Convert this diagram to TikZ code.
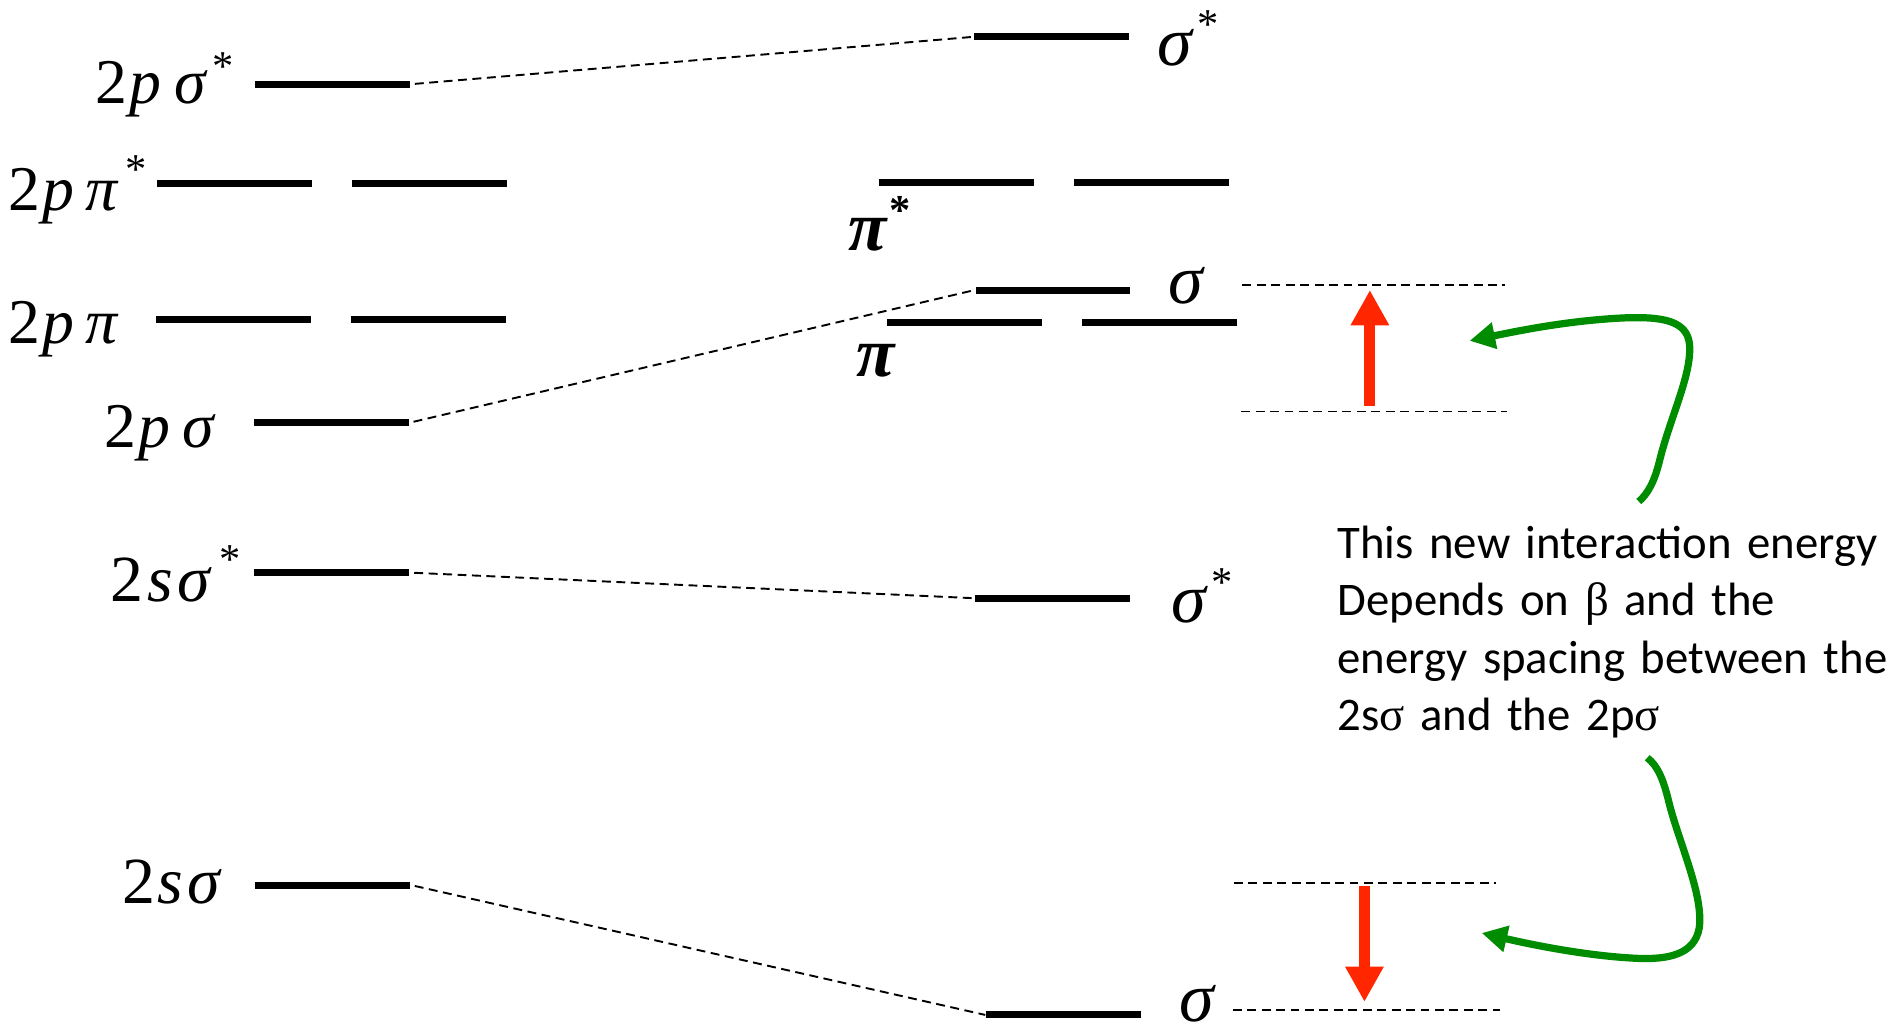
\documentclass[tikz,border=0pt]{standalone}
\usepackage{fontspec}
\setmainfont{Liberation Serif}
\newfontfamily\notefont{Carlito}
\newfontfamily\symfont{Liberation Serif}
\usetikzlibrary{arrows.meta}
\definecolor{arrowred}{RGB}{255,38,0}
\definecolor{notegreen}{RGB}{0,140,0}
% raised asterisk: #1 = kern before it, #2 = raise
\newcommand\ostar[2]{\kern#1\raisebox{#2}{\fontsize{10}{10}\selectfont\upshape *}}
\begin{document}
\begin{tikzpicture}[x=0.01cm,y=-0.01cm,
  level/.style={fill=black, inner sep=0pt, minimum width=1.28cm, minimum height=1.65pt},
  lab/.style={inner sep=0pt, anchor=base west, font=\fontsize{15}{15}\selectfont},
  slab/.style={inner sep=0pt, anchor=base west, font=\fontsize{15.5}{15.5}\selectfont},
  rlab/.style={inner sep=0pt, anchor=base west, font=\fontsize{16.5}{16.5}\selectfont\itshape},
  link/.style={line width=0.45pt, dash pattern=on 2.1pt off 1.3pt, shorten <=1pt},
  guide/.style={line width=0.45pt, dash pattern=on 2.1pt off 1.3pt},
  energy/.style={draw=arrowred, line width=2.6pt, -{Triangle[length=8.3pt,width=8.5pt]}},
  pointer/.style={draw=notegreen, line width=1.7pt, -{Triangle[length=6pt,width=6pt]}},
  note/.style={inner sep=0pt, anchor=base west, align=left, text width=5cm,
    font=\notefont\fontsize{11}{13.5}\selectfont}]
\useasboundingbox (0,0) rectangle (1568,852);

% atomic-orbital pair levels (left)
\node[level] (lpss)  at (275,69.7) {};
\node[level] (lppsa) at (194,151.7) {};
\node[level] (lppsb) at (355.2,151.7) {};
\node[level] (lppa)  at (193,264.2) {};
\node[level] (lppb)  at (354.5,264.2) {};
\node[level] (lps)   at (274,349.8) {};
\node[level] (lsss)  at (274.5,473.8) {};
\node[level] (lss)   at (275,732.3) {};

% mixed levels (right)
\node[level] (rss1) at (870,30.5) {};
\node[level] (rpsa) at (791.3,151) {};
\node[level] (rpsb) at (953,151) {};
\node[level] (rs1)  at (871.3,240) {};
\node[level] (rpa)  at (798.2,266.5) {};
\node[level] (rpb)  at (959.6,266.5) {};
\node[level] (rss2) at (871,495) {};
\node[level] (rs2)  at (880,839.8) {};

% left labels
\node[lab] (tlpss) at (78.5,85.5) {2\kern0.5pt\textit{p}\kern3pt\textit{σ}\ostar{1.2pt}{5.4pt}};
\node[lab] (tlpps) at (6.5,174) {2\kern0.5pt\textit{p}\kern2.5pt\textit{π}\ostar{1.7pt}{6.4pt}};
\node[lab] (tlpp)  at (6.5,284) {2\kern0.5pt\textit{p}\kern2.5pt\textit{π}};
\node[lab] (tlps)  at (85.5,370) {2\kern0.5pt\textit{p}\kern3pt\textit{σ}};
\node[slab] (tlsss) at (91,497.8) {2\kern0.8pt\textit{s}\kern1.2pt\textit{σ}\ostar{1.6pt}{6.7pt}};
\node[slab] (tlss)  at (100.5,747.4) {2\kern0.5pt\textit{s}\kern1pt\textit{σ}};

% right labels
\node[rlab] (trss1) at (957,54) {σ\ostar{1.4pt}{6.4pt}};
\node[rlab] (trps)  at (701,207.4) {\bfseries π\ostar{0.7pt}{6.1pt}};
\node[rlab] (trs1)  at (966,251) {σ};
\node[rlab] (trp)   at (708,311.7) {\bfseries π};
\node[rlab] (trss2) at (968.5,515.5) {σ\ostar{1.3pt}{6.3pt}};
\node[rlab] (trs2)  at (975.5,845) {σ};

% correlation lines
\draw[link] (lpss.east) -- (rss1.west);
\draw[link] (lps.east)  -- (rs1.west);
\draw[link] (lsss.east) -- (rss2.west);
\draw[link] (lss.east)  -- (rs2.west);

% reference levels for the shifts
\coordinate (h1a) at (1028,236);   \coordinate (h1b) at (1245,236);
\coordinate (h2a) at (1027,340.5); \coordinate (h2b) at (1247,340.5);
\coordinate (h3a) at (1021,730.5); \coordinate (h3b) at (1238,730.5);
\coordinate (h4a) at (1020,835.5); \coordinate (h4b) at (1241,835.5);
\draw[guide] (h1a) -- (h1b);
\draw[guide] (h2a) -- (h2b);
\draw[guide] (h3a) -- (h3b);
\draw[guide] (h4a) -- (h4b);

% energy shifts
\coordinate (upfrom) at (1133.5,336); \coordinate (upto) at (1133.5,240);
\coordinate (dnfrom) at (1129,733);   \coordinate (dnto) at (1129,829);
\draw[energy] (upfrom) -- (upto);
\draw[energy] (dnfrom) -- (dnto);

% explanation
\node[note] (note) at (1106,462) {This new interaction energy\\
Depends on {\symfont β} and the\\
energy spacing between the\\
2s{\symfont σ} and the 2p{\symfont σ}};

\coordinate (g1a) at (1356,415); \coordinate (g1b) at (1216,282);
\coordinate (g2a) at (1363,627); \coordinate (g2b) at (1226,772);
\draw[pointer] (g1a) .. controls (1364,408) and (1369,398) .. (1373,382)
  .. controls (1382,345) and (1400,310) .. (1398,285)
  .. controls (1396,265) and (1375,262) .. (1345,263)
  .. controls (1300,265) and (1260,273) .. (g1b);
\draw[pointer] (g2a) .. controls (1372,634) and (1376,645) .. (1380,660)
  .. controls (1388,695) and (1410,740) .. (1406,768)
  .. controls (1402,790) and (1380,794) .. (1355,793)
  .. controls (1310,791) and (1260,780) .. (g2b);
\end{tikzpicture}
\end{document}
